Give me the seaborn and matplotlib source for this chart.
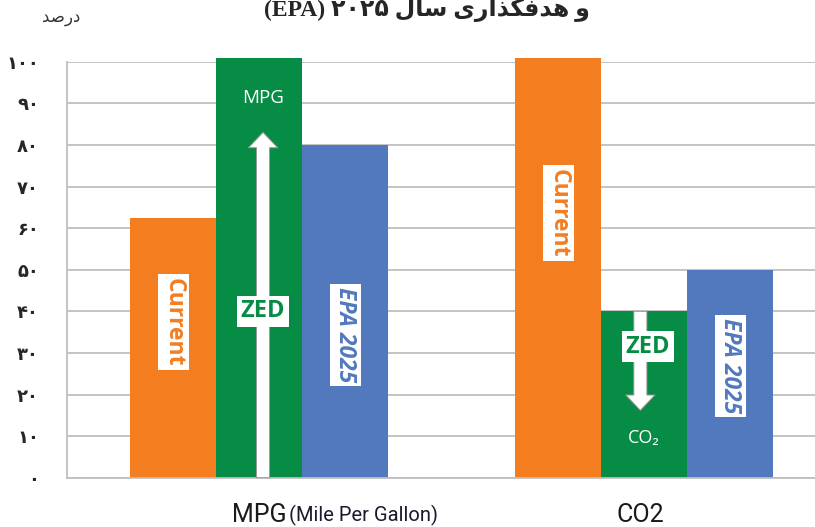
import matplotlib
matplotlib.use("Agg")
import matplotlib.pyplot as plt
import seaborn as sns
import pandas as pd

# values (percent)
categories = ["MPG", "CO2"]
series = ["Current", "ZED", "EPA 2025"]
current = [62.5, 101]
zed = [101, 40]
epa_2025 = [80, 50]
y_ticks = list(range(0, 101, 10))

colors = ["#F47D20", "#078C45", "#5279BE"]
grid_gray = "#BFBFBF"

df = pd.DataFrame({
    "category": categories * 3,
    "series": [s for s in series for _ in categories],
    "value": current + zed + epa_2025,
})

# matplotlib does no arabic shaping, so pick the presentation forms by hand
forms = {
    "ا": ("\uFE8D", "\uFE8E", None, None),
    "د": ("\uFEA9", "\uFEAA", None, None),
    "ذ": ("\uFEAB", "\uFEAC", None, None),
    "ر": ("\uFEAD", "\uFEAE", None, None),
    "و": ("\uFEED", "\uFEEE", None, None),
    "س": ("\uFEB1", "\uFEB2", "\uFEB3", "\uFEB4"),
    "ص": ("\uFEB9", "\uFEBA", "\uFEBB", "\uFEBC"),
    "ف": ("\uFED1", "\uFED2", "\uFED3", "\uFED4"),
    "ل": ("\uFEDD", "\uFEDE", "\uFEDF", "\uFEE0"),
    "ه": ("\uFEE9", "\uFEEA", "\uFEEB", "\uFEEC"),
    "گ": ("\uFB92", "\uFB93", "\uFB94", "\uFB95"),
    "ی": ("\uFBFC", "\uFBFD", "\uFBFE", "\uFBFF"),
}


def shape(word):
    out = []
    for i, ch in enumerate(word):
        f = forms.get(ch)
        if f is None:
            out.append(ch)
            continue
        prev = word[i - 1] if i > 0 else None
        nxt = word[i + 1] if i + 1 < len(word) else None
        jp = prev in forms and forms[prev][2] is not None
        jn = nxt in forms and f[2] is not None
        out.append(f[{(False, False): 0, (True, False): 1, (False, True): 2, (True, True): 3}[(jp, jn)]])
    return "".join(reversed(out))


def rtl(tokens):
    # tokens in logical order; persian words get shaped, the rest stays ltr
    return " ".join(shape(t) if any(c in forms for c in t) else t for t in reversed(tokens))


def fa_digits(n):
    return str(n).translate(str.maketrans("0123456789", "۰۱۲۳۴۵۶۷۸۹"))


sns.set_style("white")
plt.rcParams["font.family"] = ["Open Sans", "DejaVu Sans"]

fig = plt.figure(figsize=(8.15, 5.27), dpi=100)
ax = fig.add_axes([66.7 / 815, 49.3 / 527, 770 / 815, 416 / 527])

bar_w = 0.67
sns.barplot(data=df, x="category", y="value", hue="series", order=categories,
            hue_order=series, palette=colors, saturation=1, width=bar_w,
            linewidth=0, legend=False, ax=ax)
for p in ax.patches:
    p.set_clip_on(False)

ax.set_xlim(-0.5, 1.5)
ax.set_ylim(0, 100)
ax.set_axisbelow(True)
ax.yaxis.grid(True, color=grid_gray, lw=1.3)
ax.set_yticks(y_ticks)
ax.set_yticklabels([fa_digits(v) for v in y_ticks], fontweight="bold",
                   family=["DejaVu Sans"], fontsize=13)
ax.tick_params(axis="y", length=10, width=1.3, color=grid_gray, pad=10)
ax.set_xticks([-0.5, 0.5, 1.5])
ax.set_xticklabels([])
ax.tick_params(axis="x", length=9, width=1.3, color=grid_gray)
ax.set_xlabel("")
ax.set_ylabel("")
for s in ["top", "right"]:
    ax.spines[s].set_visible(False)
for s in ["left", "bottom"]:
    ax.spines[s].set_color(grid_gray)
    ax.spines[s].set_linewidth(1.3)

# labels in white boxes on the bars
off = bar_w / 3
box = dict(boxstyle="square,pad=0.15", fc="white", ec="none")
for i, cat in enumerate(categories):
    ax.text(i - off, [37.4, 63.6][i], "Current", rotation=270, color=colors[0],
            fontsize=16.5, fontweight="bold", ha="center", va="center", bbox=box)
    ax.text(i + off, [34.3, 26.9][i], "EPA 2025", rotation=270, color=colors[2],
            fontsize=16.5, fontweight="bold", style="italic", ha="center", va="center", bbox=box)
    ax.text(i + 0.01, [40, 31.5][i], "ZED", color=colors[1], fontsize=17,
            fontweight="bold", ha="center", va="center", bbox=box, zorder=5)

arrow = dict(arrowstyle="simple,head_width=1.05,head_length=0.55,tail_width=0.47",
             mutation_scale=20, fc="white", ec="#9a9a9a", lw=0.7, shrinkA=0, shrinkB=0)
ax.annotate("", xy=(0.01, 83), xytext=(0.01, 0), arrowprops=arrow, annotation_clip=False)
ax.annotate("", xy=(0.99, 16.2), xytext=(0.99, 40), arrowprops=arrow)
ax.text(0.01, 91.3, "MPG", color="white", fontsize=13.5, ha="center", va="center")
ax.text(1.0, 9.5, "CO\u2082", color="white", fontsize=13, ha="center", va="center")

# category labels under the axis
tr = ax.get_xaxis_transform()
ax.text(0, -0.106, "MPG", transform=tr, ha="center", va="baseline",
        fontsize=18, family=["Roboto"], color="#1a1a1a")
ax.text(0.077, -0.106, "(Mile Per Gallon)", transform=tr, ha="left", va="baseline",
        fontsize=14.5, family=["Roboto"], color="#1a1a2e")
ax.text(0.99, -0.106, "CO2", transform=tr, ha="center", va="baseline",
        fontsize=18, family=["Roboto"], color="#1a1a1a")

fig.text(61 / 815, 1 - 17 / 527, rtl(["درصد"]), ha="center", va="center",
         fontsize=12, family=["DejaVu Sans"], color="#333333")
fig.text(427 / 815, 1 - 16 / 527, rtl(["و", "هدفگذاری", "سال", fa_digits(2025), "(EPA)"]),
         ha="center", va="baseline", fontsize=17, fontweight="bold",
         family=["Liberation Serif", "DejaVu Sans"])

fig.savefig("out.png", dpi=100)
